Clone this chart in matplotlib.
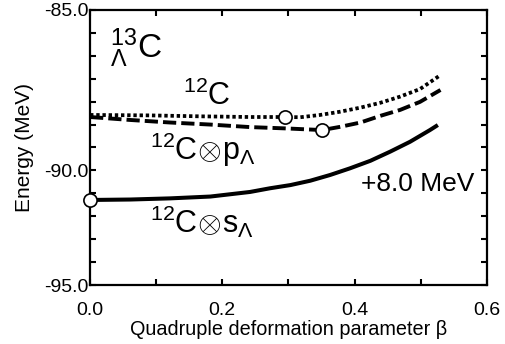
import matplotlib
matplotlib.use("Agg")
import matplotlib.pyplot as plt
from matplotlib.ticker import FixedLocator, FixedFormatter, MultipleLocator

plt.rcParams['font.family'] = ['Liberation Sans', 'DejaVu Sans']
plt.rcParams['mathtext.fontset'] = 'custom'
plt.rcParams['mathtext.rm'] = 'Liberation Sans'
plt.rcParams['mathtext.it'] = 'Liberation Sans:italic'

# 12C (dotted)
beta_12c = [0.0, 0.091, 0.166, 0.242, 0.295, 0.318, 0.348, 0.378, 0.409,
            0.439, 0.469, 0.499, 0.530]
e_12c = [-87.58, -87.60, -87.64, -87.67, -87.67, -87.68, -87.58, -87.44,
         -87.26, -87.05, -86.78, -86.45, -85.84]
# 12C x p_Lambda (dashed)
beta_p = [0.0, 0.061, 0.121, 0.182, 0.242, 0.298, 0.351, 0.378, 0.409,
          0.439, 0.469, 0.499, 0.530]
e_p = [-87.67, -87.80, -87.91, -88.00, -88.11, -88.17, -88.24, -88.10,
       -87.91, -87.62, -87.36, -87.01, -86.49]
# 12C x s_Lambda (+8.0 MeV, solid)
beta_s = [0.0, 0.061, 0.121, 0.182, 0.242, 0.272, 0.303, 0.333, 0.363,
          0.393, 0.424, 0.454, 0.484, 0.514, 0.526]
e_s = [-91.29, -91.27, -91.22, -91.14, -90.94, -90.78, -90.64, -90.45,
       -90.20, -89.91, -89.58, -89.18, -88.75, -88.24, -88.02]
# energy minima (circles)
min_beta = [0.295, 0.351, 0.0]
min_energy = [-87.67, -88.24, -91.29]

ytick_pos = [-83, -90, -95]
ytick_labels = ['-85.0', '-90.0', '-95.0']
xtick_pos = [0.0, 0.2, 0.4, 0.6]
xtick_labels = ['0.0', '0.2', '0.4', '0.6']

fig = plt.figure(figsize=(5.06, 3.44), dpi=100)
ax = fig.add_axes([0.178, 0.1715, 0.784, 0.7995])

ax.plot(beta_12c, e_12c, color='black', lw=2.7, linestyle=(0, (0.9, 0.75)))
ax.plot(beta_p, e_p, color='black', lw=2.8, linestyle=(0, (3.4, 1.3)))
ax.plot(beta_s, e_s, color='black', lw=2.9, linestyle='-',
        solid_capstyle='butt')
ax.plot(min_beta, min_energy, linestyle='none', marker='o', ms=9.5,
        mfc='white', mec='black', mew=1.2, clip_on=False, zorder=5)

ax.set_xlim(0.0, 0.6)
ax.set_ylim(-95, -83)
ax.xaxis.set_major_locator(FixedLocator(xtick_pos))
ax.xaxis.set_major_formatter(FixedFormatter(xtick_labels))
ax.xaxis.set_minor_locator(MultipleLocator(0.1))
ax.yaxis.set_major_locator(FixedLocator(ytick_pos))
ax.yaxis.set_major_formatter(FixedFormatter(ytick_labels))
ax.yaxis.set_minor_locator(MultipleLocator(1.0))

ax.tick_params(which='both', direction='in', top=True, right=True,
               length=4, width=1.5, labelsize=14)
ax.tick_params(axis='x', pad=12)
ax.tick_params(axis='y', pad=1)
for s in ax.spines.values():
    s.set_linewidth(1.6)

ax.set_xlabel('Quadruple deformation parameter β', fontsize=14.3, labelpad=1)
ax.set_ylabel('Energy (MeV)', fontsize=15, labelpad=7)

ax.text(0.03, -84.65, r'${}^{13}_{\Lambda}\mathrm{C}$', fontsize=24, va='center', ha='left')
ax.text(0.14, -86.75, r'${}^{12}\mathrm{C}$', fontsize=22, va='center', ha='left')
ax.text(0.09, -89.1, r'${}^{12}\mathrm{C}\!\otimes\!\mathrm{p}_{\Lambda}$', fontsize=22, va='center', ha='left')
ax.text(0.41, -90.6, '+8.0 MeV', fontsize=19, va='center', ha='left')
ax.text(0.09, -92.25, r'${}^{12}\mathrm{C}\!\otimes\!\mathrm{s}_{\Lambda}$', fontsize=22, va='center', ha='left')

fig.savefig('out.png', dpi=100)
